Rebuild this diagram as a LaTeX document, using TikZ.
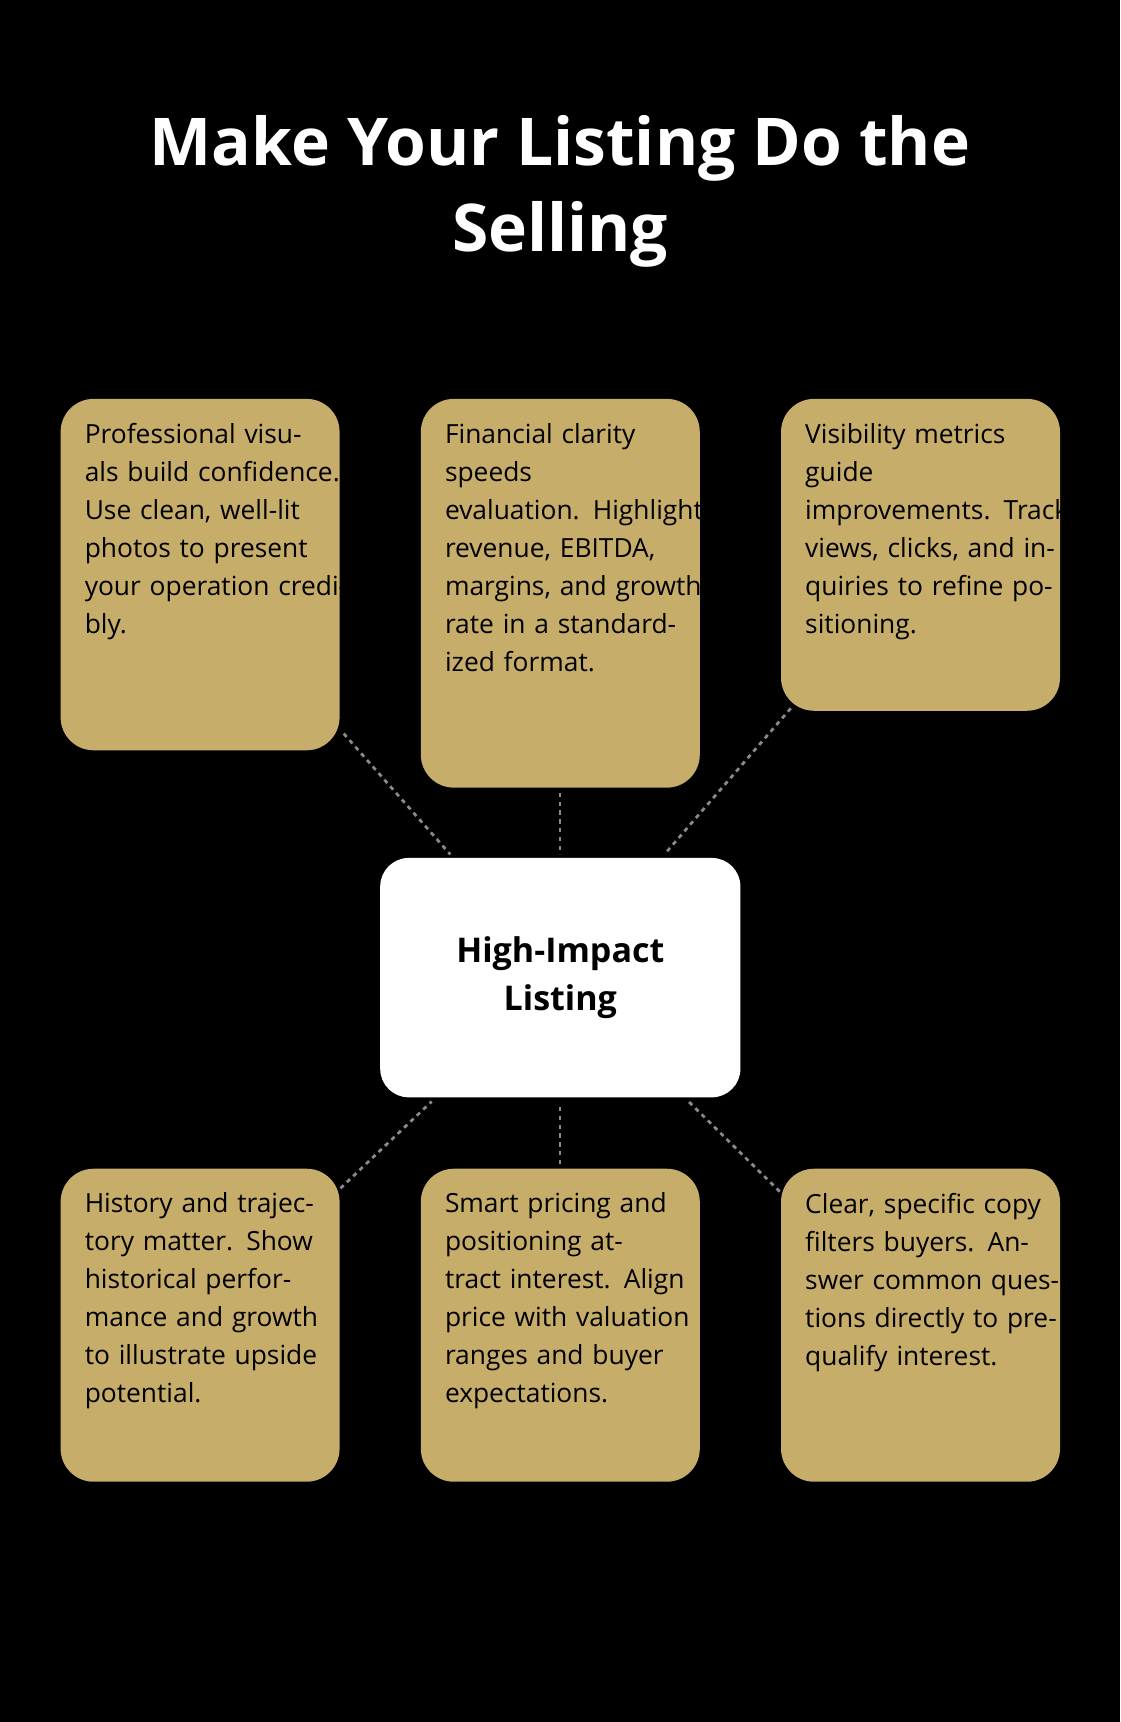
\documentclass[tikz,border=0pt]{standalone}
\usepackage{fontspec}
\setmainfont{Open Sans}
\begin{document}
\begin{tikzpicture}[x=1pt,y=1pt,
  box/.style={draw=none,fill=gold,rounded corners=30pt,inner sep=0pt},
  txt/.style={anchor=north west,align=left,text width=240pt,inner sep=0pt,font=\fontsize{24}{34.6}\selectfont,text=black},
  conn/.style={draw=dotgray,line width=2.5pt,dash pattern=on 4pt off 4pt}]
\definecolor{gold}{HTML}{C6AD6A}
\definecolor{dotgray}{HTML}{8A8A8A}
\fill[black] (0,0) rectangle (1020,-1568);
\useasboundingbox (0,0) rectangle (1020,-1568);
\node[font=\fontsize{60}{78}\selectfont\bfseries,text=white,align=center] (title) at (510,-174) {Make Your Listing Do the\\Selling};
% boxes
\node[box,minimum width=254pt,minimum height=320pt,anchor=north west] (b1) at (55,-363) {};
\node[box,minimum width=254pt,minimum height=354pt,anchor=north west] (b2) at (383,-363) {};
\node[box,minimum width=254pt,minimum height=284pt,anchor=north west] (b3) at (711,-363) {};
\node[box,minimum width=254pt,minimum height=285pt,anchor=north west] (b4) at (55,-1064) {};
\node[box,minimum width=254pt,minimum height=285pt,anchor=north west] (b5) at (383,-1064) {};
\node[box,minimum width=254pt,minimum height=285pt,anchor=north west] (b6) at (711,-1064) {};
\node[draw=none,fill=white,rounded corners=26pt,minimum width=328pt,minimum height=218pt,anchor=north west] (c) at (346,-781) {};
\node[font=\fontsize{31}{44}\selectfont\bfseries,align=center] (ct) at (c.center) {High-Impact\\Listing};
% texts
\node[txt] (t1) at ([shift={(22,-22)}]b1.north west) {Professional visuals build confidence. Use clean, well-lit photos to present your operation credibly.};
\node[txt] (t2) at ([shift={(22,-22)}]b2.north west) {Financial clarity speeds\\evaluation. Highlight revenue, EBITDA, margins, and growth rate in a standardized format.};
\node[txt] (t3) at ([shift={(22,-22)}]b3.north west) {Visibility metrics guide\\improvements. Track views, clicks, and inquiries to refine positioning.};
\node[txt] (t4) at ([shift={(22,-22)}]b4.north west) {History and trajectory matter. Show historical performance and growth to illustrate upside potential.};
\node[txt] (t5) at ([shift={(22,-22)}]b5.north west) {Smart pricing and positioning attract interest. Align price with valuation ranges and buyer expectations.};
\node[txt] (t6) at ([shift={(22,-22)}]b6.north west) {Clear, specific copy filters buyers. Answer common questions directly to pre-qualify interest.};
% connectors
\coordinate (p1) at (313,-668); \coordinate (q1) at (410,-778);
\coordinate (p2) at (510,-722); \coordinate (q2) at (510,-778);
\coordinate (p3) at (720,-645); \coordinate (q3) at (605,-778);
\coordinate (p4) at (310,-1082); \coordinate (q4) at (393,-1003);
\coordinate (p5) at (510,-1060); \coordinate (q5) at (510,-1005);
\coordinate (p6) at (710,-1085); \coordinate (q6) at (627,-1003);
\foreach \i in {1,...,6} {\draw[conn] (p\i) -- (q\i);}
\end{tikzpicture}
\end{document}
